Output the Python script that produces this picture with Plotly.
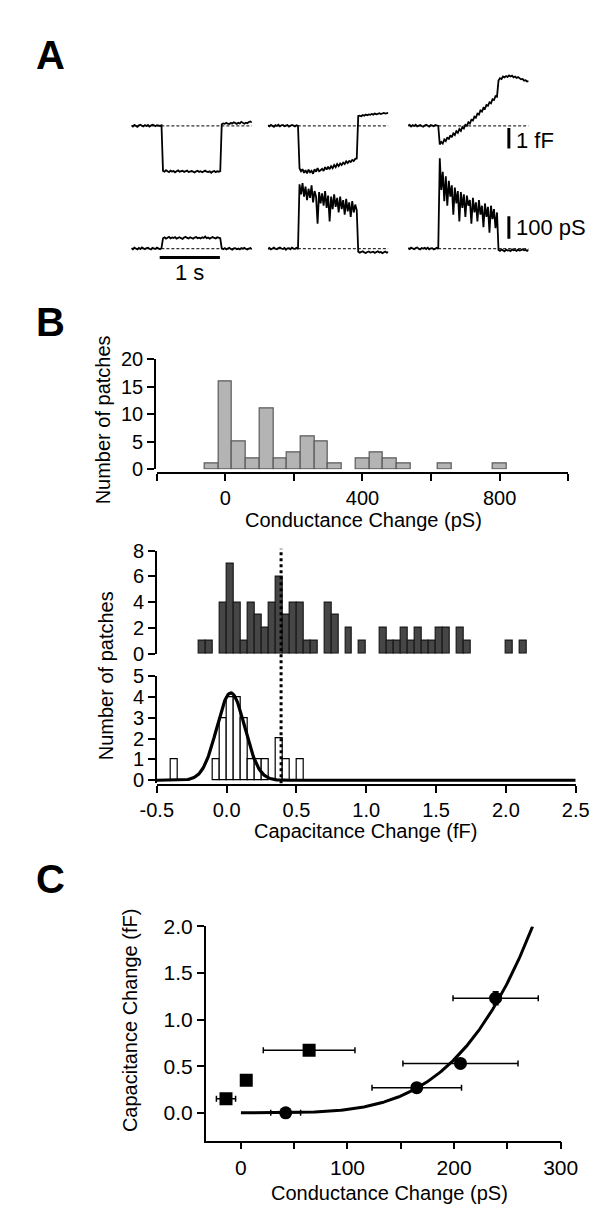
import numpy as np
import plotly.graph_objects as go

# ======================= DATA =======================
# Panel A: example recordings, sampled every 25 ms over 2 s
sample_dt = 0.025  # s
cap_trace_1 = [0.02, -0.03, 0.05, 0.0, -0.04, 0.03, 0.06, 0.01, -0.02, 0.04, 0.0, 0.05, -0.03, 0.02, 0.06, 0.03, -0.01, 0.04, 0.02, 0.0, 0.03,
               -2.18, -2.22, -2.15, -2.2, -2.24, -2.17, -2.21, -2.19, -2.25, -2.2,
               -2.16, -2.22, -2.2, -2.18, -2.23, -2.21, -2.17, -2.24, -2.2, -2.19,
               -2.22, -2.26, -2.2, -2.18, -2.23, -2.2, -2.25, -2.21, -2.17, -2.22,
               -2.24, -2.2, -2.27, -2.21, -2.19, -2.24, -2.2, -2.22, -2.19,
               0.08, 0.12, 0.1, 0.15, 0.11, 0.09, 0.14, 0.12, 0.18, 0.13, 0.1, 0.15, 0.12, 0.2, 0.14, 0.11, 0.16, 0.13, 0.19, 0.22, 0.17]
cond_trace_1 = [2, -3, 4, 0, -4, 3, -2, 5, 1, -3, 2, 4, -1, -4, 3, 0, -2, 4, 1, -3, 2,
                46, 50, 44, 48, 52, 45, 49, 47, 51, 44, 48, 50, 46, 43, 49, 52, 47, 45, 50, 48,
                44, 49, 51, 46, 48, 45, 50, 47, 53, 46, 49, 44, 48, 51, 47, 45, 50, 48, 46,
                1, -3, 2, -4, 0, 3, -2, -5, 1, 2, -3, 0, -4, 2, -1, 3, -2, -4, 0, 2, -3]
cap_trace_2 = [0.03, -0.02, 0.05, 0.01, -0.04, 0.04, 0.0, 0.06, -0.02, 0.03, 0.05, -0.01, 0.02, 0.04, -0.03, 0.01, 0.05, 0.02, -0.02, 0.03, 0.0,
               -2.05, -2.2, -2.1, -2.28, -2.15, -2.3, -2.12, -2.25, -2.18, -2.32,
               -2.1, -2.22, -2.05, -2.2, -2.15, -2.08, -2.18, -2.0, -2.12, -1.98,
               -2.1, -1.95, -2.05, -1.9, -2.0, -1.85, -1.95, -1.82, -1.9, -1.78,
               -1.85, -1.72, -1.8, -1.7, -1.75, -1.65, -1.7, -1.6, -1.58,
               0.48, 0.5, 0.47, 0.53, 0.5, 0.55, 0.52, 0.56, 0.54, 0.58, 0.55, 0.6, 0.57, 0.59, 0.62, 0.58, 0.61, 0.63, 0.6, 0.62, 0.64]
cond_trace_2 = [-2, 3, -4, 1, 4, -1, -3, 2, 5, 0, -2, 3, -5, 1, 2, -3, 4, 0, -1, 3, -2,
                285, 240, 290, 230, 275, 215, 265, 225, 280, 205,
                255, 230, 110, 250, 200, 245, 190, 255, 180, 235,
                120, 230, 175, 240, 185, 225, 160, 230, 175, 215,
                150, 220, 165, 205, 140, 210, 160, 195, 170,
                -14, -18, -15, -12, -17, -20, -15, -13, -18, -16, -14, -19, -15, -12, -17, -15, -20, -16, -13, -18, -15]
cap_trace_3 = [0.02, 0.05, -0.03, 0.04, 0.0, 0.06, -0.02, 0.03, 0.05, 0.0, -0.04, 0.02, 0.06, 0.01, -0.03, 0.04, 0.02, -0.01, 0.05, 0.03, 0.0,
               -0.9, -0.78, -0.86, -0.66, -0.74, -0.55, -0.65, -0.45, -0.55, -0.36,
               -0.44, -0.25, -0.33, -0.15, -0.24, -0.05, -0.12, 0.05, 0.0, 0.18,
               0.12, 0.3, 0.26, 0.45, 0.4, 0.6, 0.55, 0.75, 0.7, 0.88,
               0.84, 1.02, 0.98, 1.15, 1.1, 1.3, 1.26, 1.45, 1.42,
               2.2, 2.32, 2.28, 2.4, 2.36, 2.42, 2.38, 2.45, 2.4, 2.44, 2.36, 2.4, 2.33, 2.37, 2.3, 2.26, 2.28, 2.2, 2.22, 2.16, 2.18]
cond_trace_3 = [3, -2, 4, 0, -3, 2, 5, -1, -4, 2, 0, 3, -2, 4, -3, 1, 2, -4, 0, 3, -1,
                400, 260, 340, 210, 320, 190, 300, 230, 280, 150,
                270, 200, 255, 120, 250, 180, 240, 140, 235, 190,
                215, 110, 225, 160, 205, 120, 215, 150, 190, 95,
                200, 140, 185, 70, 190, 130, 175, 90, 160,
                -6, -10, -4, -8, -12, -5, -9, -7, -11, -4, -8, -6, -10, -5, -9, -7, -3, -8, -6, -10, -5]
cap_scale_bar = 1.0     # fF
cond_scale_bar = 100.0  # pS
time_scale_bar = 1.0    # s

# Panel B (top): conductance change histogram, 40 pS bins
cond_bin_centers = [-40, 0, 40, 80, 120, 160, 200, 240, 280, 320, 360, 400, 440, 480, 520, 560, 600, 640, 680, 720, 760, 800]
cond_counts = [1, 16, 5, 2, 11, 2, 3, 6, 5, 1, 0, 2, 3, 2, 1, 0, 0, 1, 0, 0, 0, 1]
cond_bin_width = 40
cond_ticks = [-200, 0, 200, 400, 600, 800, 1000]
cond_tick_labels = ["", "0", "", "400", "", "800", ""]

# Panel B (middle): capacitance change histogram (dark), 0.05 fF bins
cap_bin_width = 0.05
capA_bin_left = [-0.2, -0.15, -0.1, -0.05, 0.0, 0.05, 0.1, 0.15, 0.2, 0.25, 0.3, 0.35, 0.4, 0.45, 0.5, 0.55, 0.6, 0.65,
                 0.7, 0.75, 0.8, 0.85, 0.9, 0.95, 1.0, 1.05, 1.1, 1.15, 1.2, 1.25, 1.3, 1.35, 1.4, 1.45, 1.5, 1.55,
                 1.6, 1.65, 1.7, 1.75, 1.8, 1.85, 1.9, 1.95, 2.0, 2.05, 2.1]
capA_counts = [1, 1, 0, 4, 7, 4, 1, 4, 3, 2, 4, 6, 3, 4, 4, 1, 1, 0,
               4, 3, 0, 2, 0, 1, 0, 0, 2, 1, 1, 2, 1, 2, 1, 1, 2, 2,
               0, 2, 1, 0, 0, 0, 0, 0, 1, 0, 1]
# Panel B (lower): capacitance change histogram (open), 0.05 fF bins
capB_bin_left = [-0.4, -0.35, -0.3, -0.25, -0.2, -0.15, -0.1, -0.05, 0.0, 0.05, 0.1, 0.15, 0.2, 0.25, 0.3, 0.35, 0.4, 0.45, 0.5]
capB_counts = [1, 0, 0, 0, 0, 0, 1, 3, 4, 4, 3, 1, 1, 1, 0, 2, 1, 0, 1]
gauss_amp, gauss_mean, gauss_sd = 4.2, 0.03, 0.1
cap_threshold = 0.39
cap_ticks = [-0.5, 0.0, 0.5, 1.0, 1.5, 2.0, 2.5]

# Panel C: capacitance vs conductance
circ_g = [42, 165, 206, 239]
circ_c = [0.0, 0.27, 0.53, 1.23]
circ_g_err = [14, 42, 54, 40]
circ_c_err = [0, 0, 0, 0.07]
sq_g = [-14, 5, 64]
sq_c = [0.15, 0.35, 0.67]
sq_g_err = [9, 0, 43]
sq_c_err = [0, 0, 0.04]
fit_g_max, fit_c_max, fit_power = 273.7, 2.0, 4
c_xticks = [0, 50, 100, 150, 200, 250, 300]
c_xtick_labels = ["0", "", "100", "", "200", "", "300"]
c_yticks = [0.0, 0.5, 1.0, 1.5, 2.0]

# ======================= LAYOUT HELPERS =======================
W, H = 597, 1208
FONT = "Liberation Sans, Arial, Helvetica, sans-serif"
def fx(p):
    return p / W
def fy(p):
    return 1 - p / H

fig = go.Figure()

# ---------------- Panel A ----------------
px_per_s = 64.0
cap_px_per_unit, cap_base_px, cap_dom = 21.0, 108.0, (50.0, 165.0)
cond_px_per_unit, cond_base_px, cond_dom = 0.23, 233.0, (135.0, 245.0)
cap_range = [(cap_base_px - cap_dom[1]) / cap_px_per_unit, (cap_base_px - cap_dom[0]) / cap_px_per_unit]
cond_range = [(cond_base_px - cond_dom[1]) / cond_px_per_unit, (cond_base_px - cond_dom[0]) / cond_px_per_unit]
col_left = [113, 258, 407]
xnames = ["x", "x2", "x3"]
caps = [cap_trace_1, cap_trace_2, cap_trace_3]
conds = [cond_trace_1, cond_trace_2, cond_trace_3]
shapes = []
for i in range(3):
    t = np.arange(len(caps[i])) * sample_dt
    fig.add_trace(go.Scatter(x=t, y=caps[i], xaxis=xnames[i], yaxis="y", mode="lines",
                             line=dict(color="black", width=1.8), showlegend=False, hoverinfo="skip"))
    t2 = np.arange(len(conds[i])) * sample_dt
    fig.add_trace(go.Scatter(x=t2, y=conds[i], xaxis=xnames[i], yaxis="y2", mode="lines",
                             line=dict(color="black", width=1.8), showlegend=False, hoverinfo="skip"))
    for yr in ["y", "y2"]:
        shapes.append(dict(type="line", xref=xnames[i], yref=yr, x0=0, x1=t[-1], y0=0, y1=0, layer="below",
                           line=dict(color="#333", width=1.2, dash="3px,2px")))

layout_axes = {}
for i in range(3):
    key = "xaxis" if i == 0 else f"xaxis{i+1}"
    layout_axes[key] = dict(domain=[fx(col_left[i]), fx(col_left[i] + 2 * px_per_s)], range=[0, 2.0],
                            visible=False, anchor="y")
layout_axes["yaxis"] = dict(domain=[fy(cap_dom[1]), fy(cap_dom[0])], range=cap_range, visible=False, anchor="x")
layout_axes["yaxis2"] = dict(domain=[fy(cond_dom[1]), fy(cond_dom[0])], range=cond_range, visible=False, anchor="x")

# scale bars
bar_x = fx(514)
shapes.append(dict(type="line", xref="paper", yref="y", x0=bar_x, x1=bar_x, y0=-0.1 - cap_scale_bar, y1=-0.1,
                   line=dict(color="black", width=3)))
shapes.append(dict(type="line", xref="paper", yref="y2", x0=bar_x, x1=bar_x, y0=43.5, y1=43.5 + cond_scale_bar,
                   line=dict(color="black", width=3)))
shapes.append(dict(type="line", xref="x", yref="paper", x0=0.47, x1=0.47 + time_scale_bar, y0=fy(242), y1=fy(242),
                   line=dict(color="black", width=3)))

annotations = []
def ann(text, x, y, size, xanchor="center", bold=False, angle=0):
    annotations.append(dict(text=f"<b>{text}</b>" if bold else text, x=fx(x), y=fy(y), xref="paper", yref="paper",
                            showarrow=False, xanchor=xanchor, yanchor="middle", textangle=angle,
                            font=dict(family=FONT, size=size, color="black")))

ann("1 fF", 519, 123, 22, xanchor="left")
ann("100 pS", 519, 212, 22, xanchor="left")
ann("1 s", 175, 257, 22)
ann("A", 27, 36, 40, bold=True)
ann("B", 27, 308, 40, bold=True)
ann("C", 27, 876, 40, bold=True)

# ---------------- Panel B ----------------
axis_common = dict(showline=True, linecolor="black", linewidth=1.5, ticks="outside", ticklen=7, tickwidth=1.5,
                   tickcolor="black", showgrid=False, zeroline=False,
                   tickfont=dict(family=FONT, size=20, color="black"))

cb = [(c, n) for c, n in zip(cond_bin_centers, cond_counts) if n > 0]
fig.add_trace(go.Bar(x=[c for c, _ in cb], y=[n for _, n in cb], width=cond_bin_width, xaxis="x4", yaxis="y3",
                     marker=dict(color="#b4b4b4", line=dict(color="#5a5a5a", width=1.2)),
                     showlegend=False, hoverinfo="skip"))
layout_axes["xaxis4"] = dict(axis_common, domain=[fx(140), fx(577)], range=[-200, 1000], anchor="free",
                             position=fy(462), tickvals=cond_ticks, ticktext=cond_tick_labels)
layout_axes["yaxis3"] = dict(axis_common, domain=[fy(458), fy(346)], range=[0, 20], anchor="free",
                             position=fx(138), tickvals=[0, 5, 10, 15, 20])

ca = [(l + cap_bin_width / 2, n) for l, n in zip(capA_bin_left, capA_counts) if n > 0]
fig.add_trace(go.Bar(x=[c for c, _ in ca], y=[n for _, n in ca], width=cap_bin_width, xaxis="x5", yaxis="y4",
                     marker=dict(color="#464646", line=dict(color="#1a1a1a", width=1.2)),
                     showlegend=False, hoverinfo="skip"))
cbb = [(l + cap_bin_width / 2, n) for l, n in zip(capB_bin_left, capB_counts) if n > 0]
fig.add_trace(go.Bar(x=[c for c, _ in cbb], y=[n for _, n in cbb], width=cap_bin_width, xaxis="x5", yaxis="y5",
                     marker=dict(color="white", line=dict(color="black", width=1.2)),
                     showlegend=False, hoverinfo="skip"))
gx = np.linspace(cap_ticks[0], cap_ticks[-1], 600)
gy = gauss_amp * np.exp(-0.5 * ((gx - gauss_mean) / gauss_sd) ** 2)
fig.add_trace(go.Scatter(x=gx, y=gy, xaxis="x5", yaxis="y5", mode="lines", line=dict(color="black", width=3.2),
                         showlegend=False, hoverinfo="skip"))

low_px_per_unit = (775 - 669) / 5.0
layout_axes["xaxis5"] = dict(axis_common, domain=[fx(140), fx(585)], range=[cap_ticks[0], cap_ticks[-1]],
                             anchor="free", position=fy(780), tickvals=cap_ticks,
                             ticktext=[f"{v:.1f}" for v in cap_ticks])
layout_axes["yaxis4"] = dict(axis_common, domain=[fy(646), fy(541)], range=[0, 8], anchor="free",
                             position=fx(139), tickvals=[0, 2, 4, 6, 8])
layout_axes["yaxis5"] = dict(axis_common, domain=[fy(778), fy(669)], range=[-3 / low_px_per_unit, 5],
                             anchor="free", position=fx(139), tickvals=[0, 1, 2, 3, 4, 5])
shapes.append(dict(type="line", xref="x5", yref="paper", x0=cap_threshold, x1=cap_threshold, y0=fy(778), y1=fy(539),
                   line=dict(color="black", width=3, dash="dot")))

ann("Number of patches", 83, 408, 20, angle=-90)
ann("Conductance Change (pS)", 360, 510, 20)
ann("Number of patches", 86, 668, 20, angle=-90)
ann("Capacitance Change (fF)", 362, 827, 20)

# ---------------- Panel C ----------------
fg = np.linspace(0, fit_g_max, 300)
fc = fit_c_max * (fg / fit_g_max) ** fit_power
fig.add_trace(go.Scatter(x=fg, y=fc, xaxis="x6", yaxis="y6", mode="lines", line=dict(color="black", width=3),
                         showlegend=False, hoverinfo="skip"))
err_style = dict(type="data", thickness=1.5, width=3, color="black")
fig.add_trace(go.Scatter(x=circ_g, y=circ_c, xaxis="x6", yaxis="y6", mode="markers",
                         marker=dict(symbol="circle", size=13, color="black"),
                         error_x=dict(err_style, array=circ_g_err), error_y=dict(err_style, array=circ_c_err),
                         showlegend=False, hoverinfo="skip"))
fig.add_trace(go.Scatter(x=sq_g, y=sq_c, xaxis="x6", yaxis="y6", mode="markers",
                         marker=dict(symbol="square", size=13, color="black"),
                         error_x=dict(err_style, array=sq_g_err), error_y=dict(err_style, array=sq_c_err),
                         showlegend=False, hoverinfo="skip"))
axis_c = dict(axis_common, tickfont=dict(family=FONT, size=21, color="black"))
layout_axes["xaxis6"] = dict(axis_c, domain=[fx(192), fx(569)], range=[-33, 300], anchor="y6",
                             tickvals=c_xticks, ticktext=c_xtick_labels)
layout_axes["yaxis6"] = dict(axis_c, domain=[fy(1142.5), fy(924)], range=[-0.3, 2.0], anchor="x6",
                             tickvals=c_yticks, ticktext=[f"{v:.1f}" for v in c_yticks])
ann("Capacitance Change (fF)", 111, 1020, 20, angle=-90)
ann("Conductance Change (pS)", 387, 1196, 20)

fig.update_layout(width=W, height=H, autosize=False, margin=dict(l=0, r=0, t=0, b=0),
                  paper_bgcolor="white", plot_bgcolor="rgba(0,0,0,0)", showlegend=False,
                  bargap=0, shapes=shapes, annotations=annotations,
                  font=dict(family=FONT, size=20, color="black"), **layout_axes)
fig.write_html("out.html")
